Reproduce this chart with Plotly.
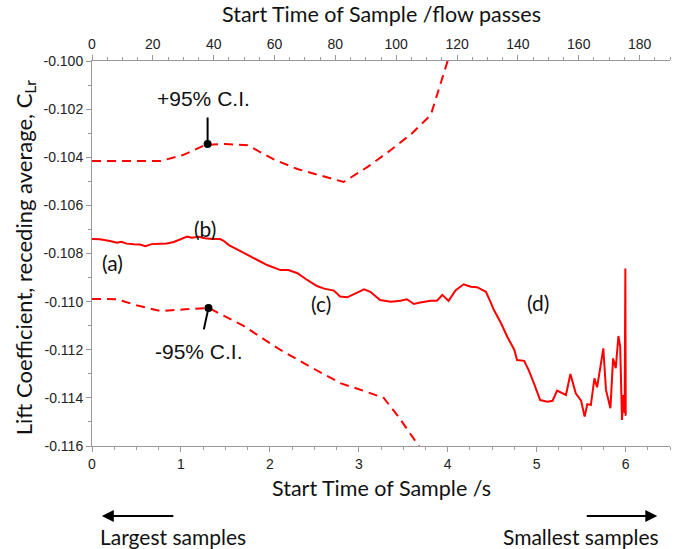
import plotly.graph_objects as go

# Solid line: receding average lift coefficient vs start time (s)
t_main = [0.00, 0.09, 0.20, 0.28, 0.33, 0.39, 0.47, 0.54, 0.60, 0.67, 0.77, 0.84, 0.92, 0.99,
          1.07, 1.12, 1.20, 1.27, 1.35, 1.44, 1.48, 1.54, 1.63, 1.74, 1.86, 1.97, 2.12, 2.21,
          2.31, 2.42, 2.53, 2.61, 2.72, 2.79, 2.87, 2.94, 3.06, 3.13, 3.19, 3.24, 3.36, 3.47,
          3.54, 3.62, 3.69, 3.81, 3.88, 3.94, 4.01, 4.09, 4.18, 4.26, 4.33, 4.37, 4.43, 4.48,
          4.52, 4.60, 4.67, 4.75, 4.78, 4.86, 4.91, 4.97, 5.04, 5.12, 5.18, 5.23, 5.29, 5.33,
          5.38, 5.44, 5.50, 5.54, 5.57, 5.61, 5.65, 5.68, 5.70, 5.75, 5.78, 5.83, 5.86, 5.89,
          5.92, 5.94, 5.96, 5.975, 5.99, 5.998, 6.002, 6.008]
cl_main = [-0.10740, -0.10741, -0.10748, -0.10755, -0.10751, -0.10759, -0.10762, -0.10763,
           -0.10770, -0.10761, -0.10759, -0.10758, -0.10752, -0.10741, -0.10730, -0.10734,
           -0.10730, -0.10737, -0.10740, -0.10740, -0.10747, -0.10765, -0.10783, -0.10806,
           -0.10827, -0.10848, -0.10869, -0.10869, -0.10882, -0.10910, -0.10935, -0.10946,
           -0.10954, -0.10979, -0.10982, -0.10970, -0.10949, -0.10959, -0.10979, -0.10993,
           -0.11000, -0.10996, -0.10990, -0.11010, -0.11004, -0.10996, -0.10996, -0.10972,
           -0.10997, -0.10952, -0.10928, -0.10938, -0.10940, -0.10949, -0.10959, -0.11000,
           -0.11035, -0.11090, -0.11146, -0.11201, -0.11243, -0.11246, -0.11284, -0.11340,
           -0.11409, -0.11416, -0.11412, -0.11370, -0.11381, -0.11388, -0.11301, -0.11381,
           -0.11412, -0.11478, -0.11426, -0.11430, -0.11319, -0.11356, -0.11312, -0.11194,
           -0.11367, -0.11443, -0.11236, -0.11277, -0.11143, -0.11187, -0.11492, -0.11388,
           -0.11464, -0.10862, -0.11471, -0.11471]

# +95% confidence interval
t_upper = [0.00, 0.77, 1.03, 1.27, 1.50, 1.75, 2.05, 2.31, 2.83, 3.10, 3.36, 3.60, 3.81, 3.90, 4.00, 4.05]
cl_upper = [-0.10416, -0.10416, -0.10390, -0.10349, -0.10345, -0.10350, -0.10410, -0.10449,
            -0.10503, -0.10440, -0.10370, -0.10300, -0.10224, -0.10120, -0.10000, -0.09940]

# -95% confidence interval
t_lower = [0.00, 0.28, 0.50, 0.77, 1.05, 1.31, 1.70, 2.12, 2.50, 2.80, 3.05, 3.28, 3.45, 3.64, 3.75]
cl_lower = [-0.10989, -0.10990, -0.11015, -0.11039, -0.11032, -0.11026, -0.11100, -0.11201,
            -0.11280, -0.11340, -0.11370, -0.11400, -0.11480, -0.11584, -0.11640]

# Marked points on the confidence curves
ci_pts_t = [1.30, 1.31]
ci_pts_cl = [-0.10345, -0.11026]

# Axis ticks
y_ticks = [-0.116, -0.114, -0.112, -0.110, -0.108, -0.106, -0.104, -0.102, -0.100]
x_ticks = [0, 1, 2, 3, 4, 5, 6]
x2_ticks = [0, 20, 40, 60, 80, 100, 120, 140, 160, 180]

RED = "#FF0000"
AXC = "#9a9a9a"
TICKFONT = dict(family="Liberation Sans, Arial", size=14, color="#222222")
TITLEFONT = dict(family="Lato, Calibri, sans-serif", size=21.5, color="#111111")

fig = go.Figure()
fig.add_trace(go.Scatter(x=t_upper, y=cl_upper, mode="lines",
                         line=dict(color=RED, width=2, dash="9px,6px"), hoverinfo="skip"))
fig.add_trace(go.Scatter(x=t_lower, y=cl_lower, mode="lines",
                         line=dict(color=RED, width=2, dash="9px,6px"), hoverinfo="skip"))
fig.add_trace(go.Scatter(x=t_main, y=cl_main, mode="lines",
                         line=dict(color=RED, width=2), hoverinfo="skip"))
fig.add_trace(go.Scatter(x=ci_pts_t, y=ci_pts_cl, mode="markers",
                         marker=dict(color="black", size=8), hoverinfo="skip"))
fig.add_trace(go.Scatter(x=[None], y=[None], xaxis="x2", hoverinfo="skip"))

axis_common = dict(showgrid=False, zeroline=False, showline=True, linecolor=AXC, linewidth=1,
                   ticks="outside", tickcolor=AXC, ticklen=5, tickwidth=1, tickfont=TICKFONT,
                   automargin=False)

fig.update_layout(
    width=680, height=549,
    margin=dict(l=92, r=10, t=61, b=103),
    paper_bgcolor="white", plot_bgcolor="white",
    showlegend=False,
    xaxis=dict(range=[0, 6.5], tickvals=x_ticks, ticktext=[str(v) for v in x_ticks],
               minor=dict(dtick=0.25, ticks="outside", ticklen=3, tickcolor=AXC),
               **axis_common),
    xaxis2=dict(range=[0, 190], overlaying="x", side="top", tickvals=x2_ticks,
                ticktext=[str(v) for v in x2_ticks],
                minor=dict(dtick=5, ticks="outside", ticklen=3, tickcolor=AXC),
                **axis_common),
    yaxis=dict(range=[-0.116, -0.100], tickvals=y_ticks,
               ticktext=[f"{v:.3f}" for v in y_ticks],
               minor=dict(dtick=0.001, ticks="outside", ticklen=3, tickcolor=AXC),
               **axis_common),
)

LBL = dict(family="Lato, Calibri, sans-serif", size=21, color="#111111")
CIF = dict(family="Liberation Sans, Arial", size=21, color="#111111")
anns = [
    # axis titles
    dict(xref="paper", yref="paper", x=0.5, y=1.122, text="Start Time of Sample /flow passes",
         font=TITLEFONT),
    dict(xref="paper", yref="paper", x=0.5, y=-0.109, text="Start Time of Sample /s",
         font=TITLEFONT),
    dict(xref="paper", yref="paper", x=-0.116, y=0.49, textangle=-90,
         text="Lift Coefficient, receding average, C<sub>Lr</sub>",
         font=dict(family="Lato, Calibri, sans-serif", size=22, color="#111111")),
    # region labels
    dict(x=0.225, y=-0.10839, text="(a)", font=LBL),
    dict(x=1.27, y=-0.10698, text="(b)", font=LBL),
    dict(x=2.57, y=-0.11006, text="(c)", font=LBL),
    dict(x=5.02, y=-0.11002, text="(d)", font=LBL),
    dict(x=1.25, y=-0.10154, text="+95% C.I.", font=CIF),
    dict(x=1.20, y=-0.11209, text="-95% C.I.", font=CIF),
    dict(x=ci_pts_t[0], y=ci_pts_cl[0], text="", showarrow=True, arrowhead=0, arrowwidth=2,
         arrowcolor="black", ax=0, ay=-28, standoff=0),
    dict(x=ci_pts_t[1], y=ci_pts_cl[1], text="", showarrow=True, arrowhead=0, arrowwidth=2,
         arrowcolor="black", ax=-5, ay=23, standoff=0),
    dict(xref="paper", yref="paper", x=0.017, y=-0.182, text="", showarrow=True,
         arrowhead=2, arrowsize=1.2, arrowwidth=2, arrowcolor="black", ax=73, ay=0),
    dict(xref="paper", yref="paper", x=0.978, y=-0.182, text="", showarrow=True,
         arrowhead=2, arrowsize=1.2, arrowwidth=2, arrowcolor="black", ax=-72, ay=0),
    dict(xref="paper", yref="paper", x=0.140, y=-0.2345, text="Largest samples", font=LBL),
    dict(xref="paper", yref="paper", x=0.846, y=-0.2345, text="Smallest samples", font=LBL),
]
for a in anns:
    a.setdefault("showarrow", False)
    a.setdefault("xanchor", "center")
    a.setdefault("yanchor", "middle")
    fig.add_annotation(**a)

fig.write_html("out.html", config={"displayModeBar": False},
               post_script="document.body.style.margin='0';document.body.style.overflow='hidden';")
